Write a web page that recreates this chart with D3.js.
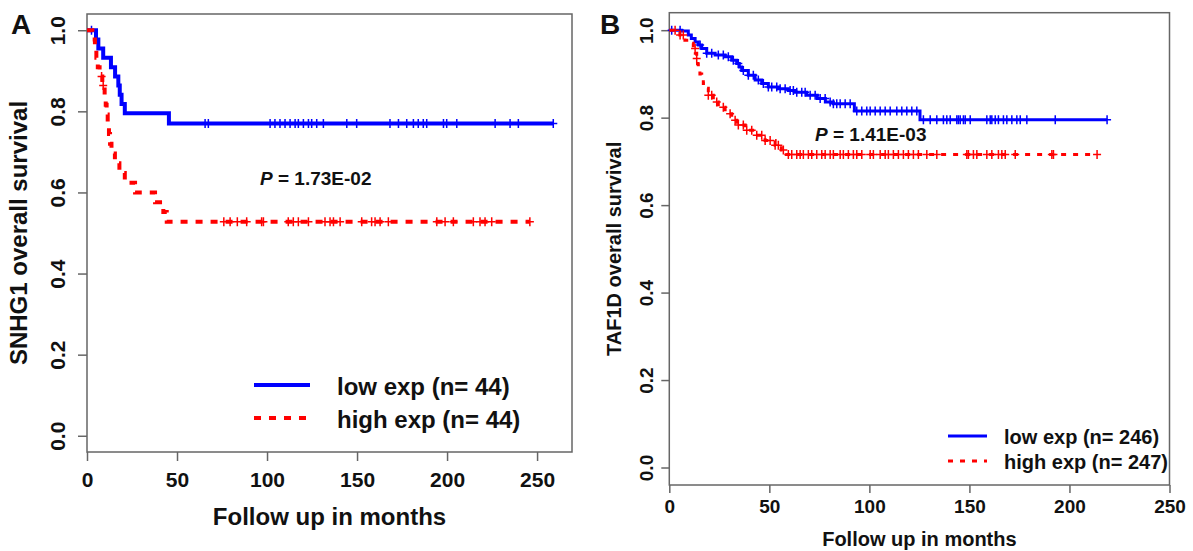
<!DOCTYPE html>
<html>
<head>
<meta charset="utf-8">
<script src="https://cdn.jsdelivr.net/npm/d3@7"></script>
<style>
  body { margin: 0; background: #fff; }
  svg text { font-family: "Liberation Sans", Arial, sans-serif; font-weight: bold; fill: #111; }
</style>
</head>
<body>
<div id="chart"></div>
<script>
// ---- data ----
// Panel A: SNHG1, [months, survival] at each drop
const aLowSteps = [[0,1],[5,0.977],[6.3,0.955],[9,0.932],[13.3,0.909],[15.6,0.886],[17.4,0.864],[18.2,0.841],[19.2,0.818],[21,0.795],[45.5,0.77]];
const aLowEnd = 259;
const aLowCensor = [2.5,65.6,67.4,101.7,104.4,107.2,110,112.8,115.6,117.4,120.2,123,124.8,127.6,131.3,144.3,149.8,168.3,173,177.6,181.3,184,186.8,188.7,198,199.8,205.4,226.7,235,239.6,259];
const aHighSteps = [[0,1],[3,0.977],[4.4,0.955],[5.2,0.932],[6,0.909],[7,0.886],[8.5,0.864],[9.8,0.84],[10.4,0.816],[10.9,0.792],[11.5,0.768],[12.2,0.744],[12.8,0.72],[13.6,0.696],[15.5,0.672],[18,0.648],[21,0.624],[26.7,0.6],[37.8,0.576],[42.4,0.552],[44.3,0.528]];
const aHighEnd = 246;
const aHighCensor = [8.1,9.0,76,79.5,83.5,88.7,97,98,111.8,114.6,117.4,123,132.2,135,136.9,140.6,152.6,158.1,160,162.8,167.4,194.3,198.9,203.5,214.6,218.3,221.1,224.8,246];

// Panel B: TAF1D
const bLowSteps = [[0,1],[6.2,0.998],[9.5,0.989],[11,0.981],[12.9,0.973],[14.5,0.966],[16.2,0.958],[18.7,0.947],[22.9,0.943],[27.9,0.939],[31.2,0.931],[33.7,0.924],[35,0.916],[36.2,0.908],[39.5,0.897],[42.9,0.886],[46.2,0.878],[49.5,0.87],[54.5,0.866],[59.5,0.862],[62.9,0.858],[68.7,0.851],[74,0.844],[78,0.836],[82,0.832],[92.5,0.815],[125.3,0.795]];
const bLowEnd = 218.8;
const bLowCensor = [1.2,5.4,15.4,18.7,21.2,24.5,27,29.5,32,34.5,37,39.5,42,44.5,47,49.5,51.2,53.7,55.4,57.9,60.4,62,63.7,66.2,67.9,70.4,72.9,75.4,77.9,80.4,82,83.7,85.4,87.9,90.4,93.7,96.2,98.7,100.4,102.9,105.4,107.9,110.4,113.7,116.2,118.7,121.2,123.7,127,130.4,133.7,137,138.7,140.4,143.7,144.5,145.4,147,147.9,150.4,158.7,160.4,161.2,162.9,164.5,167,168.7,171.2,173.7,175.4,178.7,192.9,218.8];
const bHighSteps = [[0,1],[3.7,0.996],[5.3,0.989],[7.8,0.977],[10.3,0.97],[12,0.958],[13,0.947],[13.7,0.935],[14.1,0.923],[14.5,0.912],[15.3,0.9],[16.2,0.889],[17,0.878],[17.9,0.867],[19.5,0.851],[22,0.836],[24.5,0.824],[27.9,0.809],[31.2,0.794],[33.7,0.783],[37.9,0.771],[42.9,0.76],[47.9,0.748],[52.9,0.737],[56,0.726],[58.5,0.716]];
const bHighEnd = 213.8;
const bHighCensor = [2.9,5.4,7,12.9,13.7,19.5,21.2,23.7,27,30.4,32.9,34.5,37,38.7,41.2,43.7,46.2,47.9,50.4,52.9,54.5,57,59.5,61.2,63.7,65.4,67,69.5,71.2,73.7,76.2,77.9,80.4,82,85.4,87,89.5,92,93.7,96.2,100.4,102,105.4,107.9,109.5,112,114.5,117,119.5,122,124.5,128.7,133.7,148.7,149.5,152,153.7,158.7,161.2,164.5,166.2,167.9,172.9,191.2,192,213.8];

const xTicks = [0, 50, 100, 150, 200, 250];
const yTicks = [0, 0.2, 0.4, 0.6, 0.8, 1.0];

const svg = d3.select("#chart").append("svg")
    .attr("width", 1193)
    .attr("height", 551);

function survAt(steps, t) {
    let s = steps[0][1];
    steps.forEach(d => { if (d[0] <= t) s = d[1]; });
    return s;
}

function drawPanel(p) {
    const x = d3.scaleLinear().domain([0, p.xMax]).range([p.left, p.right]);
    const y = d3.scaleLinear().domain([-0.04, 1.04]).range([p.bottom, p.top]);

    const g = svg.append("g");

    // box
    g.append("rect")
        .attr("x", p.left).attr("y", p.top)
        .attr("width", p.right - p.left).attr("height", p.bottom - p.top)
        .attr("fill", "none").attr("stroke", "#666").attr("stroke-width", 1.5);

    // x axis
    const xa = g.append("g")
        .attr("transform", `translate(0,${p.bottom})`)
        .call(d3.axisBottom(x).tickValues(xTicks).tickSize(p.tick).tickFormat(d3.format("d")));
    xa.select(".domain").remove();
    xa.selectAll(".tick line").attr("stroke", "#666").attr("stroke-width", 1.5);
    xa.selectAll(".tick text")
        .attr("dy", null)
        .attr("y", p.xLabelY - p.bottom)
        .style("font-size", p.tickFont + "px");

    // y axis
    const ya = g.append("g")
        .attr("transform", `translate(${p.left},0)`)
        .call(d3.axisLeft(y).tickValues(yTicks).tickSize(p.tick).tickFormat(d3.format(".1f")));
    ya.select(".domain").remove();
    ya.selectAll(".tick line").attr("stroke", "#666").attr("stroke-width", 1.5);
    ya.selectAll(".tick text")
        .attr("x", null).attr("dy", null)
        .attr("text-anchor", "middle")
        .attr("transform", `translate(${p.yLabelX - p.left},0) rotate(-90)`)
        .style("font-size", p.yTickFont + "px");

    // axis titles
    g.append("text")
        .attr("x", (p.left + p.right) / 2).attr("y", p.xTitleY)
        .attr("text-anchor", "middle")
        .style("font-size", p.titleFont + "px")
        .text("Follow up in months");
    g.append("text")
        .attr("transform", `translate(${p.yTitleX},${(p.top + p.bottom) / 2}) rotate(-90)`)
        .attr("text-anchor", "middle")
        .style("font-size", p.titleFont + "px")
        .text(p.yTitle);

    // panel letter
    g.append("text")
        .attr("x", p.letterX).attr("y", 34)
        .style("font-size", "28px")
        .text(p.letter);

    // curves
    const line = d3.line()
        .x(d => x(d[0])).y(d => y(d[1]))
        .curve(d3.curveStepAfter);

    p.series.forEach(s => {
        const pts = s.steps.concat([[s.end, s.steps[s.steps.length - 1][1]]]);
        g.append("path")
            .datum(pts)
            .attr("d", line)
            .attr("fill", "none")
            .attr("stroke", s.color)
            .attr("stroke-width", p.lineW)
            .attr("stroke-dasharray", s.dash ? p.dash : null);

        // censor marks
        g.selectAll(null)
            .data(s.censor)
            .enter()
            .append("path")
            .attr("d", t => {
                const cx = x(t), cy = y(survAt(s.steps, t));
                return `M${cx - 4},${cy}h8M${cx},${cy - 4.5}v9`;
            })
            .attr("stroke", s.color)
            .attr("stroke-width", 1.5);
    });

    // p-value
    const pt = g.append("text")
        .attr("x", p.pX).attr("y", p.pY)
        .style("font-size", "19px");
    pt.append("tspan").style("font-style", "italic").text("P");
    pt.append("tspan").text(" = " + p.pValue);

    // legend
    p.series.forEach((s, i) => {
        const ly = p.legY[i];
        g.append("line")
            .attr("x1", p.legX1).attr("x2", p.legX2)
            .attr("y1", ly).attr("y2", ly)
            .attr("stroke", s.color)
            .attr("stroke-width", p.lineW)
            .attr("stroke-dasharray", s.dash ? p.dash : null);
        g.append("text")
            .attr("x", p.legTextX).attr("y", ly + p.legTextDy)
            .style("font-size", p.legFont + "px")
            .text(s.label);
    });
}

drawPanel({
    letter: "A", letterX: 11,
    left: 87, right: 572, top: 14, bottom: 452, xMax: 269.4,
    tick: 9, tickFont: 21, yTickFont: 21, xLabelY: 487, yLabelX: 65,
    titleFont: 24, xTitleY: 525, yTitleX: 27, yTitle: "SNHG1 overall survival",
    lineW: 4, dash: "7,8",
    pX: 260, pY: 185, pValue: "1.73E-02",
    legX1: 254, legX2: 310, legY: [385, 418], legTextX: 337, legTextDy: 10, legFont: 24,
    series: [
        {steps: aLowSteps, end: aLowEnd, censor: aLowCensor, color: "#0000ff", dash: false, label: "low exp (n= 44)"},
        {steps: aHighSteps, end: aHighEnd, censor: aHighCensor, color: "#ff0000", dash: true, label: "high exp (n= 44)"}
    ]
});

drawPanel({
    letter: "B", letterX: 600,
    left: 669.3, right: 1169.5, top: 12.7, bottom: 485, xMax: 250,
    tick: 8, tickFont: 19, yTickFont: 19, xLabelY: 513, yLabelX: 653,
    titleFont: 20, xTitleY: 546, yTitleX: 621, yTitle: "TAF1D overall survival",
    lineW: 3, dash: "5,7",
    pX: 815, pY: 141, pValue: "1.41E-03",
    legX1: 948, legX2: 987, legY: [436, 461], legTextX: 1004, legTextDy: 8, legFont: 20,
    series: [
        {steps: bLowSteps, end: bLowEnd, censor: bLowCensor, color: "#0000ff", dash: false, label: "low exp (n= 246)"},
        {steps: bHighSteps, end: bHighEnd, censor: bHighCensor, color: "#ff0000", dash: true, label: "high exp (n= 247)"}
    ]
});
</script>
</body>
</html>
